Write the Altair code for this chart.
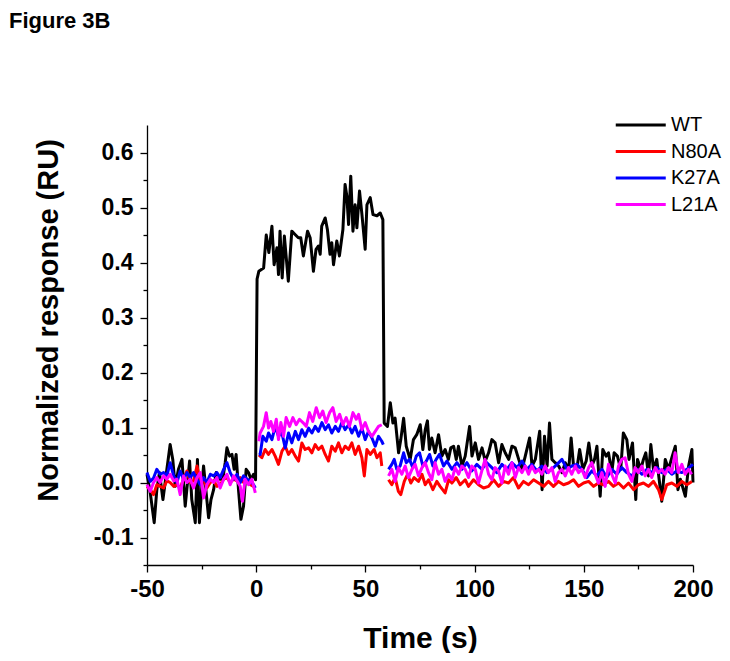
import altair as alt
import pandas as pd

FONT = "Liberation Sans"
series_names = ["WT", "N80A", "K27A", "L21A"]
series_colors = ["#000000", "#FF0000", "#0000FF", "#FF00FF"]

x_major_ticks = [-50, 0, 50, 100, 150, 200]
x_minor_ticks = [-25, 25, 75, 125, 175]
y_major_ticks = [-0.1, 0.0, 0.1, 0.2, 0.3, 0.4, 0.5, 0.6]
y_minor_ticks = [-0.15, -0.05, 0.05, 0.15, 0.25, 0.35, 0.45, 0.55]

# ---- WT (continuous trace) ----
wt_time = [-50, -48.5, -46.7, -45.5, -44.3, -42.7, -40.9, -39.4, -38.2, -37.1, -35.6, -34.0, -32.5,
           -30.5, -29.5, -27.9, -26.9, -26.0, -24.9, -24.1, -22.9, -21.8, -20.7, -19.5, -18.3, -16.8,
           -15.3, -14.2, -13.4, -12.2, -11.1, -10.1, -9.2, -8.1, -7.0, -5.8, -4.6, -3.5, -2.4, -1.2, -0.3,
           0.4, 1.2, 3.4, 4.6, 5.8, 7.2, 8.2, 9.5, 10.2, 10.9, 11.9, 12.9, 14.7, 16.3, 17.8, 19.3, 20.4,
           21.6, 23.5, 24.7, 26.2, 27.4, 28.5, 29.3, 30.0, 31.6, 32.6, 33.8, 34.6, 35.4, 36.9, 38.1, 39.7,
           40.7, 41.5, 42.3, 43.3, 44.3, 45.3, 46.1, 47.3, 48.4, 49.9, 50.7, 52.2, 53.5, 55.3, 56.8, 58.0,
           58.6, 60.1, 61.4, 62.6, 63.6, 65.2, 66.2, 67.5, 68.7, 70.5, 72.0, 73.5, 75.1, 76.3, 77.4, 78.4,
           79.3, 80.4, 81.9, 83.5, 85.0, 86.5, 88.0, 89.1, 90.4, 91.6, 92.6, 94.2, 95.7, 97.7, 98.8, 100.3,
           101.8, 103.4, 104.9, 106.4, 107.9, 109.4, 111.0, 112.5, 114.0, 115.6, 117.1, 118.6, 120.2, 121.7,
           123.2, 125.2, 126.3, 127.8, 129.8, 130.9, 132.0, 133.2, 134.3, 135.4, 136.9, 138.5, 140.0, 141.5,
           143.1, 144.2, 145.3, 146.8, 148.1, 149.6, 151.1, 152.3, 153.7, 154.9, 156.0, 157.5, 158.7, 160.2,
           161.3, 162.8, 163.9, 165.4, 166.9, 168.1, 169.7, 170.7, 172.3, 173.8, 174.6, 176.1, 177.3, 178.4,
           179.6, 180.7, 181.9, 183.4, 184.5, 185.7, 187.3, 188.8, 190.3, 191.9, 193.1, 194.2, 196.5, 198.0,
           199.5, 200.0]
wt_resp = [0.015, -0.019, -0.073, -0.013, 0.018, -0.031, 0.024, 0.069, 0.042, -0.007, 0.024, 0.042, -0.043,
           0.039, -0.031, -0.073, 0.042, -0.073, -0.007, 0.030, -0.019, -0.064, -0.031, -0.013, 0.018, 0.006,
           0.006, 0.036, 0.063, 0.048, 0.051, 0.024, 0.051, -0.013, -0.067, -0.043, 0.024, 0.018, 0.006, 0.015, 0.005,
           0.370, 0.384, 0.390, 0.450, 0.418, 0.466, 0.396, 0.427, 0.378, 0.457, 0.372, 0.448, 0.366, 0.457, 0.451, 0.445, 0.445,
           0.412, 0.457, 0.445, 0.384, 0.424, 0.430, 0.415, 0.466, 0.481, 0.460, 0.415, 0.436, 0.396, 0.439, 0.412, 0.460,
           0.542, 0.521, 0.469, 0.557, 0.457, 0.505, 0.463, 0.530, 0.488, 0.424, 0.505, 0.518, 0.487, 0.485, 0.490, 0.478,
           0.108, 0.102, 0.145, 0.108, 0.117, 0.054, 0.078, 0.117, 0.066, 0.042, 0.078, 0.087, 0.105, 0.060, 0.096, 0.112,
           0.060, 0.081, 0.054, 0.087, 0.048, 0.060, 0.042, 0.063, 0.066, 0.042, 0.066, 0.030, 0.048, 0.102, 0.048, 0.072,
           0.042, 0.063, 0.039, 0.054, 0.078, 0.072, 0.036, 0.069, 0.054, 0.042, 0.066, 0.063, 0.042, 0.024,
           0.048, 0.081, 0.030, 0.042, 0.093, -0.013, 0.084, 0.030, 0.108, 0.042, 0.036, 0.030, 0.018, 0.036,
           0.024, 0.081, 0.030, 0.024, 0.060, 0.024, 0.039, 0.072, 0.030, 0.042, 0.066, -0.025, 0.060, 0.048,
           0.054, 0.018, 0.054, 0.048, 0.024, 0.090, 0.078, 0.042, 0.072, -0.031, 0.042, 0.024, 0.042, 0.054,
           0.012, 0.069, 0.024, 0.042, 0.006, -0.034, 0.042, 0.024, 0.045, 0.066, -0.013, 0.006, -0.025, 0.030,
           0.060, 0.000]

# ---- N80A ----
n80a_pre_t = [-50, -48.5, -47.0, -45.5, -44.0, -42.4, -40.9, -39.4, -37.8, -36.3, -34.8, -33.3, -31.7, -30.2,
              -28.7, -27.1, -25.6, -24.1, -22.6, -21.0, -19.5, -18.0, -16.5, -14.9, -13.4, -11.9, -10.3, -8.8,
              -7.3, -5.8, -4.2, -2.7, -1.2]
n80a_pre_v = [-0.007, -0.013, -0.022, -0.004, -0.007, -0.010, 0.003, 0.000, -0.007, -0.004, -0.010, 0.006, 0.021, 0.000,
              0.003, 0.030, 0.000, 0.006, -0.010, 0.000, 0.003, -0.007, -0.004, 0.006, 0.009, 0.000, 0.006, 0.003,
              0.009, 0.000, 0.006, -0.004, -0.007]
n80a_assoc_t = [1.2, 2.6, 4.1, 5.6, 7.2, 8.7, 10.2, 11.8, 13.3, 14.8, 16.3, 17.9, 19.4, 20.9, 22.4, 24.0, 25.5,
                27.0, 28.5, 30.1, 31.6, 33.1, 34.6, 36.2, 37.7, 39.2, 40.7, 42.3, 43.8, 45.3, 46.9, 48.4, 49.5,
                50.7, 52.2, 54.0, 55.3, 56.8, 57.5]
n80a_assoc_v = [0.050, 0.045, 0.060, 0.051, 0.060, 0.048, 0.033, 0.057, 0.066, 0.051, 0.060, 0.048, 0.039, 0.072, 0.060,
                0.063, 0.054, 0.069, 0.060, 0.066, 0.051, 0.039, 0.066, 0.057, 0.072, 0.054, 0.066, 0.060, 0.072, 0.051,
                0.066, 0.045, 0.012, 0.060, 0.051, 0.060, 0.045, 0.054, 0.030]
n80a_diss_t = [60.6, 62.1, 63.6, 65.1, 66.2, 67.8, 69.3, 70.8, 72.3, 74.3, 75.9, 77.4, 78.9, 80.9, 82.7, 84.2, 86.5,
               88.1, 89.6, 91.6, 93.4, 95.7, 97.2, 99.5, 101.8, 104.1, 106.4, 108.7, 111.0, 113.2, 115.5, 117.8,
               120.1, 122.4, 124.7, 127.0, 129.3, 131.6, 133.8, 136.1, 138.4, 140.7, 143.0, 145.3, 147.6, 149.9,
               152.2, 154.5, 156.7, 159.0, 161.3, 163.6, 165.9, 168.2, 170.5, 172.8, 175.0, 177.3, 179.6, 181.9,
               184.2, 185.7, 188.0, 190.3, 192.6, 194.9, 197.2, 199.5]
n80a_diss_v = [0.005, -0.004, 0.009, -0.016, -0.022, 0.002, 0.015, -0.001, 0.009, 0.002, 0.015, -0.004, 0.005, -0.013,
               0.002, -0.007, -0.019, 0.005, -0.001, 0.009, -0.004, 0.005, -0.007, 0.005, -0.004, -0.010, -0.007, 0.005,
               -0.007, 0.002, -0.001, 0.009, -0.010, 0.002, -0.004, 0.005, -0.001, -0.007, 0.002, -0.007, 0.002, -0.004,
               -0.001, 0.005, -0.007, -0.001, 0.002, -0.007, -0.001, -0.004, 0.002, -0.007, -0.001, -0.010, -0.001,
               -0.013, -0.004, -0.001, -0.007, 0.002, -0.013, -0.031, -0.004, -0.001, -0.007, 0.002, -0.004, 0.002]

# ---- K27A ----
k27a_pre_t = [-50, -48.5, -47.0, -45.5, -44.0, -42.4, -40.9, -39.4, -37.8, -36.3, -34.8, -33.3, -31.7, -30.2,
              -28.7, -27.1, -25.6, -24.1, -22.6, -21.0, -19.5, -18.0, -16.5, -14.9, -13.4, -11.9, -10.3, -8.8,
              -7.3, -5.8, -4.2, -2.7, -1.2, -0.4]
k27a_pre_v = [0.018, 0.002, 0.008, 0.024, 0.015, 0.018, 0.012, 0.036, 0.012, 0.000, 0.021, 0.006, 0.018, 0.009,
              0.018, 0.006, -0.004, 0.009, 0.000, 0.015, 0.012, 0.018, 0.009, 0.024, 0.036, 0.018, 0.006, 0.015,
              0.000, 0.012, 0.006, 0.003, -0.004, -0.010]
k27a_assoc_t = [1.2, 1.8, 3.05, 4.6, 5.65, 7.2, 8.7, 10.2, 11.75, 13.3, 14.8, 16.3, 17.9, 19.4, 20.9, 22.4, 24.0,
                25.5, 27.0, 28.5, 30.1, 31.6, 33.1, 34.6, 36.2, 37.7, 39.2, 40.7, 42.3, 43.8, 45.3, 46.9, 48.4,
                49.9, 51.4, 53.0, 54.5, 56.0, 57.5, 58.2]
k27a_assoc_v = [0.050, 0.051, 0.084, 0.075, 0.090, 0.078, 0.102, 0.084, 0.090, 0.063, 0.090, 0.072, 0.093, 0.078,
                0.096, 0.084, 0.099, 0.090, 0.102, 0.093, 0.109, 0.096, 0.105, 0.090, 0.102, 0.093, 0.109, 0.096,
                0.105, 0.090, 0.102, 0.084, 0.099, 0.078, 0.093, 0.081, 0.066, 0.084, 0.075, 0.069]
k27a_diss_t = [60.6, 62.1, 63.2, 64.4, 65.9, 67.5, 68.7, 70.2, 71.7, 73.3, 74.8, 76.3, 77.9, 79.4, 80.9, 82.4, 83.9,
               85.8, 87.3, 89.6, 91.9, 94.2, 96.5, 98.7, 101.0, 103.3, 105.6, 107.9, 110.2, 112.5, 114.8, 117.1,
               119.4, 121.7, 124.0, 126.2, 128.5, 130.8, 133.1, 135.4, 137.7, 140.0, 142.3, 144.5, 146.8, 149.1,
               151.4, 153.7, 156.0, 158.3, 160.5, 162.8, 165.1, 167.4, 169.7, 172.0, 174.3, 176.6, 178.9, 181.2,
               183.4, 185.7, 188.0, 190.3, 192.6, 194.9, 197.2, 200.0]
k27a_diss_v = [0.024, 0.033, 0.042, 0.024, 0.030, 0.054, 0.036, 0.042, 0.027, 0.048, 0.054, 0.030, 0.039, 0.051,
               0.030, 0.042, 0.051, 0.030, 0.039, 0.024, 0.036, 0.024, 0.036, 0.021, 0.033, 0.024, 0.036, 0.027,
               0.018, 0.033, 0.024, 0.036, 0.027, 0.039, 0.024, 0.033, 0.021, 0.030, 0.018, 0.024, 0.033, 0.042,
               0.024, 0.030, 0.033, 0.024, 0.009, 0.021, 0.012, 0.024, 0.009, 0.024, 0.015, 0.027, 0.018, 0.012,
               0.024, 0.015, 0.024, 0.018, 0.027, 0.018, 0.024, 0.015, 0.021, 0.018, 0.024, 0.033]

# ---- L21A ----
l21a_pre_t = [-50, -48.5, -47.0, -45.5, -44.0, -42.4, -40.9, -39.4, -37.8, -36.3, -34.8, -33.3, -31.7, -30.2,
              -28.7, -27.1, -25.6, -24.1, -22.6, -21.0, -19.5, -18.0, -16.5, -14.9, -13.4, -11.9, -10.3, -8.8,
              -7.3, -6.3, -5.1, -3.5, -2.0, -0.4]
l21a_pre_v = [-0.004, -0.016, 0.000, 0.009, 0.000, 0.012, 0.006, 0.015, 0.003, 0.006, -0.022, 0.012, 0.000, 0.006,
              -0.010, 0.009, 0.018, -0.028, -0.004, 0.006, 0.000, 0.009, -0.010, 0.006, 0.015, -0.004, 0.012, 0.003,
              -0.007, -0.034, 0.006, -0.004, 0.006, -0.019]
l21a_assoc_t = [1.2, 1.8, 3.35, 4.6, 5.65, 6.7, 7.9, 9.2, 10.2, 11.3, 12.5, 13.7, 15.3, 16.8, 18.3, 19.8, 21.4,
                22.9, 24.4, 25.9, 27.5, 29.0, 30.5, 32.0, 33.6, 35.1, 36.6, 38.2, 39.7, 41.2, 42.7, 44.3, 45.8,
                46.9, 48.4, 49.9, 51.4, 53.0, 54.5, 56.0, 57.5]
l21a_assoc_v = [0.075, 0.090, 0.102, 0.127, 0.099, 0.111, 0.093, 0.115, 0.078, 0.109, 0.084, 0.118, 0.102, 0.118,
                0.105, 0.115, 0.109, 0.102, 0.127, 0.111, 0.136, 0.118, 0.130, 0.109, 0.127, 0.136, 0.111, 0.124,
                0.105, 0.118, 0.102, 0.127, 0.115, 0.124, 0.096, 0.109, 0.093, 0.084, 0.093, 0.102, 0.105]
l21a_diss_t = [60.6, 62.1, 63.6, 65.1, 66.7, 68.2, 69.7, 71.3, 72.8, 74.3, 75.9, 77.4, 78.9, 80.4, 81.9, 83.5, 85.0,
               86.5, 88.1, 89.6, 91.1, 92.7, 94.2, 95.7, 97.2, 98.7, 100.3, 101.8, 103.3, 104.8, 106.4, 107.9,
               109.4, 110.9, 112.5, 114.0, 115.5, 117.1, 118.6, 120.1, 121.7, 123.2, 124.7, 126.2, 127.8, 129.3,
               130.8, 132.3, 133.8, 135.4, 136.9, 138.4, 140.0, 141.5, 143.0, 144.5, 146.1, 147.6, 149.1, 150.6,
               152.2, 153.7, 155.2, 156.7, 158.3, 159.8, 161.3, 162.8, 164.4, 165.9, 167.4, 168.9, 170.5, 172.0,
               173.5, 175.0, 176.6, 178.1, 179.6, 181.1, 182.7, 184.2, 185.7, 187.2, 188.8, 190.3, 191.8, 193.3,
               194.9, 196.4, 197.9, 199.4]
l21a_diss_v = [0.012, 0.024, 0.002, 0.027, 0.015, 0.030, 0.009, 0.024, 0.033, 0.012, 0.027, 0.036, 0.018, 0.005,
               0.036, 0.015, 0.024, 0.002, 0.015, 0.005, 0.027, 0.015, 0.030, 0.024, 0.009, 0.030, 0.024, -0.001,
               0.021, 0.042, 0.015, 0.005, 0.027, 0.021, -0.001, 0.030, 0.015, 0.036, 0.009, 0.027, 0.018, 0.030,
               0.015, 0.030, 0.018, 0.024, 0.015, 0.030, 0.018, 0.027, 0.002, 0.018, 0.024, 0.012, 0.027, 0.015,
               0.030, 0.018, 0.024, 0.009, 0.027, 0.036, 0.015, -0.001, 0.018, -0.007, 0.033, 0.015, -0.001, 0.030,
               0.042, 0.045, 0.015, 0.002, 0.027, 0.018, 0.030, 0.012, 0.024, 0.009, 0.027, 0.018, 0.024, 0.015,
               0.027, 0.018, 0.054, 0.018, 0.033, 0.015, 0.024, 0.015]

segments = [
    ("WT", "all", wt_time, wt_resp),
    ("N80A", "pre", n80a_pre_t, n80a_pre_v),
    ("N80A", "assoc", n80a_assoc_t, n80a_assoc_v),
    ("N80A", "diss", n80a_diss_t, n80a_diss_v),
    ("K27A", "pre", k27a_pre_t, k27a_pre_v),
    ("K27A", "assoc", k27a_assoc_t, k27a_assoc_v),
    ("K27A", "diss", k27a_diss_t, k27a_diss_v),
    ("L21A", "pre", l21a_pre_t, l21a_pre_v),
    ("L21A", "assoc", l21a_assoc_t, l21a_assoc_v),
    ("L21A", "diss", l21a_diss_t, l21a_diss_v),
]
rows = []
for name, seg, ts, vs in segments:
    for t, v in zip(ts, vs):
        rows.append({"series": name, "seg": name + "_" + seg, "time": t, "response": v})
df = pd.DataFrame(rows)

axis_common = dict(domainColor="black", tickColor="black", labelColor="black", titleColor="black",
                   domainWidth=1.3, tickWidth=1.3, grid=False, labelFont=FONT, titleFont=FONT,
                   labelFontWeight="bold", titleFontWeight="bold")

x_scale = alt.Scale(domain=[-50, 200], nice=False, zero=False)
y_scale = alt.Scale(domain=[-0.15, 0.65], nice=False, zero=False)

x_major = alt.Axis(values=x_major_ticks, orient="bottom", title="Time (s)", titleFontSize=30,
                   titlePadding=22, tickSize=7, labelPadding=5, labelFontSize=24,
                   labelExpr="'' + datum.value",
                   labelFlush=False, labelOverlap=False, **axis_common)
x_minor = alt.Axis(values=x_minor_ticks, orient="bottom", title=None, labels=False, tickSize=4,
                   domain=False, **axis_common)
y_major = alt.Axis(values=y_major_ticks, orient="left", title="Normalized response (RU)", titleFontSize=29,
                   titlePadding=30, titleY=195, tickSize=7, labelPadding=7, labelFontSize=23,
                   labelExpr="datum.value < 0 ? '-' + format(-datum.value, '.1f') : format(datum.value, '.1f')",
                   labelFlush=False, labelOverlap=False, **axis_common)
y_minor = alt.Axis(values=y_minor_ticks, orient="left", title=None, labels=False, tickSize=4,
                   domain=False, **axis_common)

color = alt.Color("series:N", scale=alt.Scale(domain=series_names, range=series_colors),
                  legend=alt.Legend(title=None, orient="none", legendX=465, legendY=-10,
                                    symbolType="M-1,0H7", symbolSize=156.25, symbolStrokeWidth=3,
                                    labelFont=FONT, labelFontSize=20, labelColor="black",
                                    labelOffset=39, rowPadding=6.5, padding=0, symbolOpacity=1))

def layer(name, xaxis, yaxis):
    return alt.Chart(df).transform_filter(alt.datum.series == name).mark_line(
        strokeWidth=3, strokeJoin="round").encode(
        x=alt.X("time:Q", scale=x_scale, axis=xaxis),
        y=alt.Y("response:Q", scale=y_scale, axis=yaxis),
        color=color,
        detail="seg:N",
    )

chart = alt.layer(
    layer("WT", x_minor, y_minor),
    layer("N80A", x_major, y_major),
    layer("K27A", None, None),
    layer("L21A", None, None),
).resolve_axis(x="independent", y="independent").properties(
    width=546, height=440,
    autosize=alt.AutoSizeParams(type="none"),
    padding={"left": 139, "top": 117, "right": 29, "bottom": 88},
    title=alt.TitleParams("Figure 3B", anchor="start", frame="group", font=FONT, fontSize=22,
                          fontWeight="bold", color="black", dx=-138, offset=65, baseline="alphabetic"),
).configure_view(stroke=None)

chart.save("out.html", embed_options={"renderer": "svg", "actions": False})
